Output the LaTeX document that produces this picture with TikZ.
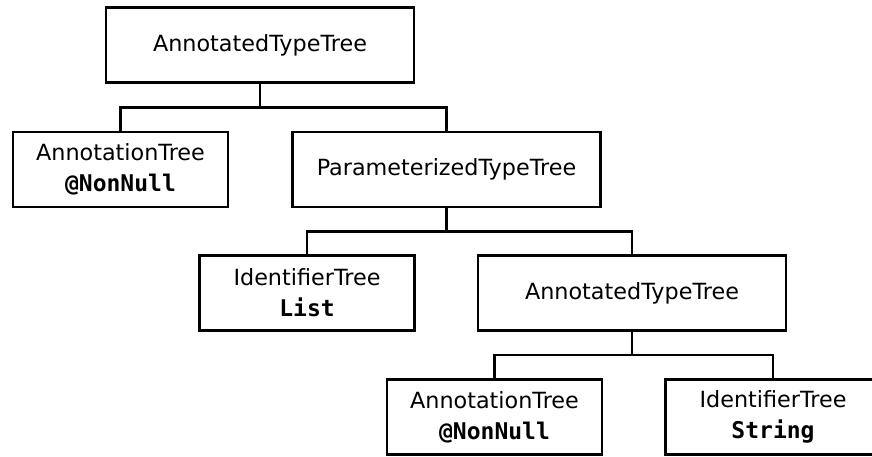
\documentclass[tikz,border=0pt]{standalone}
\usepackage{fontspec}
\setmainfont{DejaVu Sans}
\setmonofont{DejaVu Sans Mono}
\usepackage{tikz}
\usetikzlibrary{calc}

\begin{document}
\begin{tikzpicture}[x=1pt,y=1pt,line width=2.8pt,
    treebox/.style={draw,inner sep=0pt,align=center,
      minimum height=75pt,font=\fontsize{22.3}{31}\selectfont},
    wide/.style={treebox,minimum width=308pt},
    narrow/.style={treebox,minimum width=215pt}]
          \useasboundingbox (0,0) rectangle (872,457);
          \node[wide] (root) at (260,412) {AnnotatedTypeTree};
          \node[narrow] (annot) at (120.5,287.5) {AnnotationTree\\\ttfamily\bfseries\fontsize{23}{31}\selectfont @NonNull};
          \node[wide] (param) at (446.5,287.5) {ParameterizedTypeTree};
          \node[narrow] (ident) at (307,164) {IdentifierTree\\\ttfamily\bfseries\fontsize{23}{31}\selectfont List};
          \node[wide] (annty) at (632,164) {AnnotatedTypeTree};
          \node[narrow] (annotb) at (494.5,40) {AnnotationTree\\\ttfamily\bfseries\fontsize{23}{31}\selectfont @NonNull};
          \node[narrow] (identb) at (773,40) {IdentifierTree\\\ttfamily\bfseries\fontsize{23}{31}\selectfont String};
          \draw (root.south) -- ($(root.south)!0.5!(annot.north -| root.south)$) coordinate (j1);
          \draw (annot.north) |- (j1) -| (param.north);
          \draw (param.south) -- ($(param.south)!0.5!(ident.north -| param.south)$) coordinate (j2);
          \draw (ident.north) |- (j2) -| (annty.north);
          \draw (annty.south) -- ($(annty.south)!0.5!(annotb.north -| annty.south)$) coordinate (j3);
          \draw (annotb.north) |- (j3) -| (identb.north);
        \end{tikzpicture}
\end{document}
